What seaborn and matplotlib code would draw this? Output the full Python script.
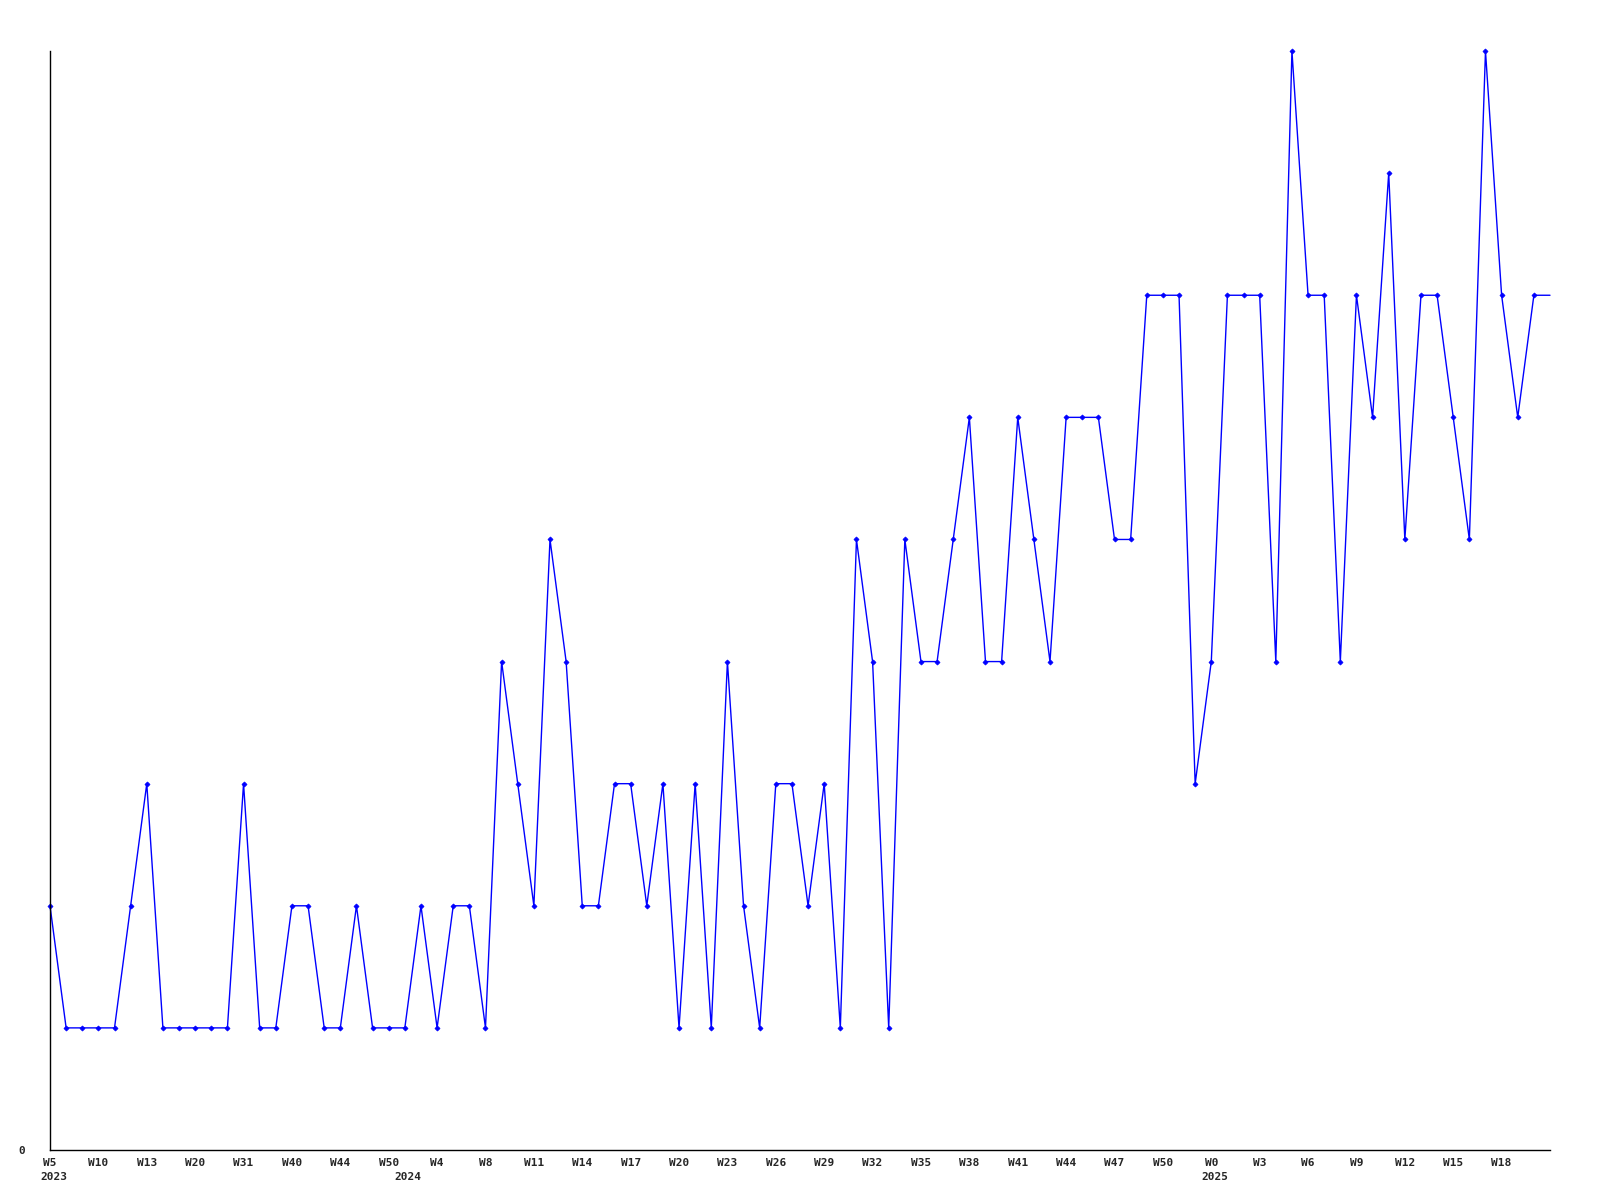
import matplotlib
matplotlib.use("Agg")
import matplotlib.pyplot as plt
import matplotlib.transforms as mtransforms
import seaborn as sns
import numpy as np
import pandas as pd

# weekly counts (last value sits on the axis end, no marker)
counts = [2, 1, 1, 1, 1, 2, 3, 1, 1, 1, 1, 1, 3, 1, 1, 2, 2, 1, 1, 2,
          1, 1, 1, 2, 1, 2, 2, 1, 4, 3, 2, 5, 4, 2, 2, 3, 3, 2, 3, 1,
          3, 1, 4, 2, 1, 3, 3, 2, 3, 1, 5, 4, 1, 5, 4, 4, 5, 6, 4, 4,
          6, 5, 4, 6, 6, 6, 5, 5, 7, 7, 7, 3, 4, 7, 7, 7, 4, 9, 7, 7,
          4, 7, 6, 8, 5, 7, 7, 6, 5, 9, 7, 6, 7, 7]

week_labels = ["W5", "W10", "W13", "W20", "W31", "W40", "W44", "W50", "W4", "W8",
               "W11", "W14", "W17", "W20", "W23", "W26", "W29", "W32", "W35", "W38",
               "W41", "W44", "W47", "W50", "W0", "W3", "W6", "W9", "W12", "W15", "W18"]
label_step = 3

years = ["2023", "2024", "2025"]
year_start_idx = [0, 22, 72]

df = pd.DataFrame({"idx": np.arange(len(counts)), "count": counts})
n_marked = len(counts) - 1

sns.set_style("white")
plt.rcParams['font.family'] = ['DejaVu Sans Mono']

fig = plt.figure(figsize=(16, 12), dpi=100)
ax = fig.add_axes([0.03125, 0.04167, 0.9375, 0.9158])

sns.lineplot(data=df, x="idx", y="count", ax=ax, color="#0000ff", linewidth=1,
             marker="D", markersize=2.6, markeredgewidth=0.5, markeredgecolor="#0000ff",
             markevery=list(range(n_marked)))
for ln in ax.lines:
    ln.set_clip_on(False)

ax.set_xlim(0, len(counts) - 1)
ax.set_ylim(0, max(counts))

ax.set_xticks(np.arange(0, n_marked, label_step)[:len(week_labels)])
ax.set_xticklabels(week_labels, fontsize=8, fontweight="bold")
ax.set_yticks([0])
ax.set_yticklabels(["0"], fontsize=8, fontweight="bold")
ax.tick_params(axis="x", length=0, pad=5.5)
ax.tick_params(axis="y", length=0, pad=18)
ax.set_xlabel("")
ax.set_ylabel("")

trans = mtransforms.blended_transform_factory(ax.transData, ax.transAxes)
for yr, i in zip(years, year_start_idx):
    ax.text(i - 0.62, -0.0246, yr, transform=trans, ha="left", va="center",
            fontsize=8, fontweight="bold")

for side in ["top", "right"]:
    ax.spines[side].set_visible(False)
for side in ["left", "bottom"]:
    ax.spines[side].set_color("black")
    ax.spines[side].set_linewidth(1)

fig.savefig("out.png", dpi=100)
